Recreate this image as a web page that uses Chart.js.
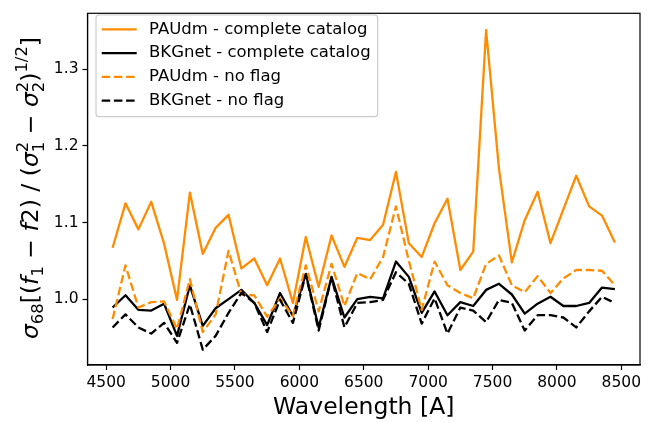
<!DOCTYPE html>
<html>
<head>
<meta charset="utf-8">
<script src="https://cdn.jsdelivr.net/npm/chart.js@4/dist/chart.umd.min.js"></script>
<style>
  html, body { margin: 0; padding: 0; background: #fff; }
  canvas { display: block; }
</style>
</head>
<body>
<canvas id="chart" width="655" height="422"></canvas>
<script>
// wavelength bins [A]
const wavelength = [4550, 4650, 4750, 4850, 4950, 5050, 5150, 5250, 5350, 5450,
  5550, 5650, 5750, 5850, 5950, 6050, 6150, 6250, 6350, 6450,
  6550, 6650, 6750, 6850, 6950, 7050, 7150, 7250, 7350, 7450,
  7550, 7650, 7750, 7850, 7950, 8050, 8150, 8250, 8350, 8450];

// values
const paudmComplete = [1.067, 1.125, 1.091, 1.127, 1.072, 0.999, 1.139, 1.059, 1.093, 1.110,
  1.040, 1.053, 1.018, 1.053, 0.995, 1.081, 1.016, 1.083, 1.042, 1.080,
  1.077, 1.097, 1.166, 1.073, 1.055, 1.099, 1.131, 1.038, 1.062, 1.351,
  1.170, 1.048, 1.103, 1.140, 1.073, 1.117, 1.161, 1.121, 1.109, 1.074];
const bkgnetComplete = [0.989, 1.005, 0.986, 0.985, 0.994, 0.952, 1.018, 0.965, 0.988, 1.000,
  1.012, 0.995, 0.966, 1.008, 0.978, 1.033, 0.963, 1.029, 0.976, 1.000,
  1.003, 1.001, 1.049, 1.029, 0.982, 1.010, 0.979, 0.996, 0.991, 1.012,
  1.020, 1.006, 0.981, 0.994, 1.003, 0.991, 0.991, 0.995, 1.015, 1.013];
const paudmNoFlag = [0.974, 1.044, 0.989, 0.996, 0.997, 0.961, 1.026, 0.957, 0.980, 1.063,
  1.006, 1.005, 0.977, 1.001, 0.978, 1.044, 0.984, 1.046, 0.991, 1.034,
  1.026, 1.055, 1.121, 1.050, 0.986, 1.049, 1.018, 1.008, 1.001, 1.046,
  1.057, 1.018, 1.009, 1.030, 1.008, 1.027, 1.038, 1.038, 1.037, 1.018];
const bkgnetNoFlag = [0.963, 0.980, 0.963, 0.955, 0.969, 0.943, 0.993, 0.934, 0.952, 0.982,
  1.008, 0.995, 0.957, 0.999, 0.969, 1.032, 0.959, 1.028, 0.963, 0.995,
  0.996, 0.999, 1.035, 1.020, 0.968, 1.001, 0.955, 0.989, 0.985, 0.970,
  0.999, 0.995, 0.959, 0.979, 0.979, 0.976, 0.963, 0.984, 1.003, 0.995];

const seriesLabels = ["PAUdm - complete catalog", "BKGnet - complete catalog",
  "PAUdm - no flag", "BKGnet - no flag"];
const xTicks = [4500, 5000, 5500, 6000, 6500, 7000, 7500, 8000, 8500];
const yTicks = [1.0, 1.1, 1.2, 1.3];

const FONT = "DejaVu Sans";
const ORANGE = "#ff8c00";
const DASH = [8.5, 3.7];
const LABEL_SIZE = 23.5;

function toPoints(ys) {
  return wavelength.map((w, i) => ({ x: w, y: ys[i] }));
}

// y label with sub/superscripts, drawn rotated
const yTitlePieces = [
  { s: "\u03c3", it: true },
  { s: "68", sc: 0.7, dy: 0.22 },
  { s: "[(" },
  { s: "f", it: true },
  { s: "1", sc: 0.7, dy: 0.22 },
  { s: " \u2212 " },
  { s: "f", it: true },
  { s: "2)" },
  { s: " / (" },
  { s: "\u03c3", it: true },
  { s: "2", sc: 0.7, dy: -0.42, stay: true },
  { s: "1", sc: 0.7, dy: 0.25 },
  { s: " \u2212 " },
  { s: "\u03c3", it: true },
  { s: "2", sc: 0.7, dy: -0.42, stay: true },
  { s: "2", sc: 0.7, dy: 0.25 },
  { s: ")" },
  { s: "1/2", sc: 0.7, dy: -0.45 },
  { s: "]" }
];

const yTitlePlugin = {
  id: "yTitle",
  afterDraw(chart) {
    const ctx = chart.ctx;
    const size = LABEL_SIZE;
    const fontOf = p => (p.it ? "italic " : "") + (size * (p.sc || 1)) + "px '" + FONT + "'";
    let total = 0;
    yTitlePieces.forEach(p => {
      ctx.font = fontOf(p);
      if (!p.stay) total += ctx.measureText(p.s).width;
    });
    ctx.save();
    ctx.translate(38, 188);
    ctx.rotate(-Math.PI / 2);
    ctx.fillStyle = "#000";
    ctx.textBaseline = "alphabetic";
    let x = -total / 2;
    yTitlePieces.forEach(p => {
      ctx.font = fontOf(p);
      ctx.fillText(p.s, x, (p.dy || 0) * size);
      if (!p.stay) x += ctx.measureText(p.s).width;
    });
    ctx.restore();
  }
};

// full box around the axes
const framePlugin = {
  id: "frame",
  afterDatasetsDraw(chart) {
    const a = chart.chartArea;
    const ctx = chart.ctx;
    ctx.save();
    ctx.strokeStyle = "#000";
    ctx.lineWidth = 1.2;
    ctx.strokeRect(a.left, a.top, a.right - a.left, a.bottom - a.top);
    ctx.restore();
  }
};

// matplotlib-like legend box
const legendPlugin = {
  id: "mplLegend",
  afterDraw(chart) {
    const ctx = chart.ctx;
    const ds = chart.data.datasets;
    const left = 96, top = 15, rowH = 23.8, firstRow = 29.3;
    const lineX0 = 101.7, lineX1 = 136.7, textX = 149;
    ctx.save();
    ctx.font = "16.5px '" + FONT + "'";
    let maxW = 0;
    ds.forEach(d => { maxW = Math.max(maxW, ctx.measureText(d.label).width); });
    const right = textX + maxW + 7;
    const bottom = firstRow + rowH * (ds.length - 1) + 16;
    ctx.beginPath();
    ctx.roundRect(left, top, right - left, bottom - top, 3);
    ctx.fillStyle = "rgba(255,255,255,0.8)";
    ctx.fill();
    ctx.strokeStyle = "#cccccc";
    ctx.lineWidth = 1.2;
    ctx.stroke();
    ds.forEach((d, i) => {
      const y = firstRow + i * rowH;
      ctx.beginPath();
      ctx.setLineDash(d.borderDash || []);
      ctx.strokeStyle = d.borderColor;
      ctx.lineWidth = d.borderWidth;
      ctx.moveTo(lineX0, y);
      ctx.lineTo(lineX1, y);
      ctx.stroke();
      ctx.setLineDash([]);
      ctx.fillStyle = "#000";
      ctx.textBaseline = "middle";
      ctx.fillText(d.label, textX, y);
    });
    ctx.restore();
  }
};

const ctx = document.getElementById("chart").getContext("2d");
new Chart(ctx, {
  type: "line",
  data: {
    datasets: [
      { label: seriesLabels[0], data: toPoints(paudmComplete), borderColor: ORANGE, order: 3 },
      { label: seriesLabels[1], data: toPoints(bkgnetComplete), borderColor: "#000", order: 2 },
      { label: seriesLabels[2], data: toPoints(paudmNoFlag), borderColor: ORANGE, borderDash: DASH, order: 1 },
      { label: seriesLabels[3], data: toPoints(bkgnetNoFlag), borderColor: "#000", borderDash: DASH, order: 0 }
    ].map(d => Object.assign({ borderWidth: 2.3, pointRadius: 0, tension: 0, fill: false,
      borderJoinStyle: "round", borderCapStyle: "butt" }, d))
  },
  options: {
    responsive: false,
    animation: false,
    layout: { padding: { left: 0, right: 15, top: 6, bottom: 0 } },
    plugins: { legend: { display: false }, tooltip: { enabled: false } },
    scales: {
      x: {
        type: "linear",
        min: 4355,
        max: 8645,
        afterBuildTicks: s => { s.ticks = xTicks.map(v => ({ value: v })); },
        afterFit: s => { s.height = 57; },
        grid: { drawOnChartArea: false, tickLength: 5, tickWidth: 1.2, tickColor: "#000" },
        border: { color: "#000", width: 1.2 },
        ticks: { color: "#000", font: { family: FONT, size: 15.5 }, padding: 4,
          maxRotation: 0, autoSkip: false, callback: v => String(v) },
        title: { display: true, text: "Wavelength [A]", color: "#000",
          font: { family: FONT, size: LABEL_SIZE }, padding: { top: 0, bottom: 0 } }
      },
      y: {
        min: 0.914,
        max: 1.373,
        afterBuildTicks: s => { s.ticks = yTicks.map(v => ({ value: v })); },
        afterFit: s => { s.width = 87.5; },
        grid: { drawOnChartArea: false, tickLength: 5, tickWidth: 1.2, tickColor: "#000" },
        border: { color: "#000", width: 1.2 },
        ticks: { color: "#000", font: { family: FONT, size: 15.5 }, padding: 4,
          callback: v => v.toFixed(1) }
      }
    }
  },
  plugins: [framePlugin, yTitlePlugin, legendPlugin]
});
</script>
</body>
</html>
